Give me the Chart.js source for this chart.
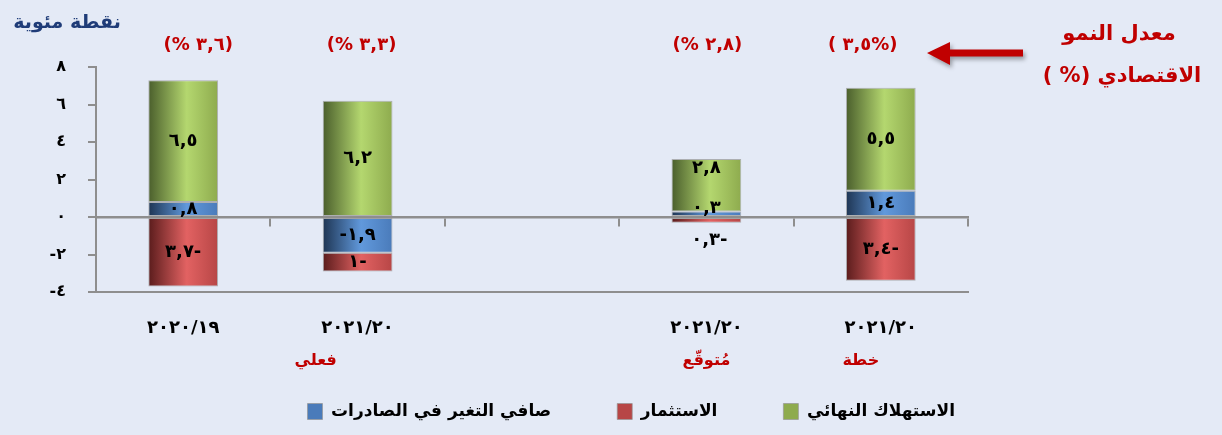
<!DOCTYPE html>
<html lang="ar" dir="ltr">
<head>
<meta charset="utf-8">
<script src="https://cdn.jsdelivr.net/npm/chart.js@4/dist/chart.umd.min.js"></script>
<style>
  html, body { margin: 0; padding: 0; background: #E4EAF6; }
  #wrap { width: 1222px; height: 435px; position: relative; direction: ltr; }
  canvas { direction: ltr; }
</style>
</head>
<body>
<div id="wrap"><canvas id="c"></canvas></div>
<script>
// Contributions to real GDP growth (percentage points) by demand component
const categories   = ['٢٠٢٠/١٩', '٢٠٢١/٢٠', '', '٢٠٢١/٢٠', '٢٠٢١/٢٠'];
const stageLabels  = ['', 'فعلي', '', 'مُتوقّع', 'خطة'];
const exportsNet   = [0.8, -1.9, null, 0.3, 1.4];
const investment   = [-3.7, -1.0, null, -0.3, -3.4];
const consumption  = [6.5, 6.2, null, 2.8, 5.5];
const growthRate   = [3.6, 3.3, null, 2.8, 3.5];
const yTickValues  = [-4, -2, 0, 2, 4, 6, 8];

const FONT = "'DejaVu Sans', sans-serif";
const RED_TEXT = '#C00000';
const AXIS_GREY = '#8E8E8E';

const arDigits = '٠١٢٣٤٥٦٧٨٩';
function toArabic(str) {
  return String(str).replace(/[0-9]/g, d => arDigits[+d]).replace('.', ',');
}

// draws a sequence of text pieces strictly left to right, centred on (cx, cy)
function drawRun(ctx, pieces, cx, cy) {
  const widths = pieces.map(p => ctx.measureText(p).width);
  const total = widths.reduce((a, b) => a + b, 0);
  let x = cx - total / 2;
  ctx.textAlign = 'left';
  pieces.forEach((p, i) => { ctx.fillText(p, x, cy); x += widths[i]; });
  ctx.textAlign = 'center';
}

function valuePieces(v, minusFirst) {
  const body = toArabic(Math.abs(v));
  if (v >= 0) return [body];
  return minusFirst ? ['-', body] : [body, '-'];
}

// horizontal "cylinder" shading across each bar
function barFill(dark, light, edge, solid) {
  return (c) => {
    if (c.type !== 'data') return solid;
    const chart = c.chart;
    const xs = chart.scales.x;
    if (!chart.chartArea || !xs) return solid;
    const cx = xs.getPixelForValue(c.dataIndex);
    const half = (xs.width / categories.length) * 0.4 / 2;
    const g = chart.ctx.createLinearGradient(cx - half, 0, cx + half, 0);
    g.addColorStop(0, dark);
    g.addColorStop(0.55, light);
    g.addColorStop(1, edge);
    return g;
  };
}

// per-point label tweaks: key = datasetIndex-dataIndex
const labelTweaks = {
  '0-1': { minusFirst: true },
  '0-3': { dy: -5 },
  '1-3': { dy: 20, dx: 3 },
  '2-3': { top: 9 }
};

const valueLabels = {
  id: 'valueLabels',
  afterDatasetsDraw(chart) {
    const ctx = chart.ctx;
    ctx.save();
    ctx.direction = 'ltr';
    ctx.font = 'bold 18px ' + FONT;
    ctx.fillStyle = '#000';
    ctx.textAlign = 'center';
    ctx.textBaseline = 'middle';
    chart.data.datasets.forEach((ds, di) => {
      const meta = chart.getDatasetMeta(di);
      meta.data.forEach((el, i) => {
        const v = ds.data[i];
        if (v === null || v === undefined) return;
        const t = labelTweaks[di + '-' + i] || {};
        let y = (el.y + el.base) / 2;
        if (t.top !== undefined) y = Math.min(el.y, el.base) + t.top;
        y += t.dy || 0;
        const x = el.x + (t.dx || 0);
        drawRun(ctx, valuePieces(v, t.minusFirst), x, y);
      });
    });
    ctx.restore();
  }
};

const growthOffsets = [15, 4, 0, 1, -18];
const stageOffsets  = [0, -42, 0, 0, -20];

const annotations = {
  id: 'annotations',
  afterDraw(chart) {
    const ctx = chart.ctx;
    const xs = chart.scales.x;
    ctx.save();
    ctx.direction = 'ltr';
    ctx.textAlign = 'center';
    ctx.textBaseline = 'middle';

    // unit caption
    ctx.font = 'bold 19px ' + FONT;
    ctx.fillStyle = '#1F3C78';
    ctx.fillText('نقطة مئوية', 67, 23);

    // growth rate above each bar
    ctx.font = 'bold 18px ' + FONT;
    ctx.fillStyle = RED_TEXT;
    growthRate.forEach((g, i) => {
      if (g === null) return;
      const num = toArabic(g);
      const pieces = i === growthRate.length - 1
        ? ['(', ' ', num, '%', ')']
        : ['(', '%', ' ', num, ')'];
      drawRun(ctx, pieces, xs.getPixelForValue(i) + growthOffsets[i], 45);
    });

    // stage of each year
    ctx.font = 'bold 16px ' + FONT;
    stageLabels.forEach((s, i) => {
      if (!s) return;
      ctx.fillText(s, xs.getPixelForValue(i) + stageOffsets[i], 361);
    });

    // side caption
    ctx.font = 'bold 21px ' + FONT;
    ctx.fillText('معدل النمو', 1119, 35);
    drawRun(ctx, ['(', ' ', '%', ')', ' ', 'الاقتصادي'], 1122, 77);

    // arrow pointing to the growth row
    ctx.shadowColor = 'rgba(0,0,0,0.35)';
    ctx.shadowBlur = 4;
    ctx.shadowOffsetX = 2;
    ctx.shadowOffsetY = 3;
    ctx.fillStyle = RED_TEXT;
    ctx.beginPath();
    ctx.moveTo(927, 53);
    ctx.lineTo(950, 42);
    ctx.lineTo(950, 49.5);
    ctx.lineTo(1023, 49.5);
    ctx.lineTo(1023, 56.5);
    ctx.lineTo(950, 56.5);
    ctx.lineTo(950, 65);
    ctx.closePath();
    ctx.fill();
    ctx.restore();
  }
};

const barBorder = 'rgba(150,150,150,0.7)';

new Chart(document.getElementById('c'), {
  type: 'bar',
  data: {
    labels: categories,
    datasets: [
      {
        label: 'صافي التغير في الصادرات',
        data: exportsNet,
        backgroundColor: barFill('#1E3553', '#6199DC', '#4A7BBA', '#4F81BD'),
        borderColor: barBorder, borderWidth: 1, borderSkipped: false
      },
      {
        label: 'الاستثمار',
        data: investment,
        backgroundColor: barFill('#5A1C1C', '#E26262', '#B74646', '#C0504D'),
        borderColor: barBorder, borderWidth: 1, borderSkipped: false
      },
      {
        label: 'الاستهلاك النهائي',
        data: consumption,
        backgroundColor: barFill('#4A5E2C', '#B4D76F', '#8EAB4E', '#9BBB59'),
        borderColor: barBorder, borderWidth: 1, borderSkipped: false
      }
    ]
  },
  options: {
    responsive: true,
    maintainAspectRatio: false,
    animation: false,
    devicePixelRatio: 1,
    layout: { padding: { top: 67, right: 201, bottom: 5, left: 0 } },
    datasets: { bar: { barPercentage: 0.4, categoryPercentage: 1 } },
    scales: {
      x: {
        stacked: true,
        grid: { display: false },
        border: { display: true, color: AXIS_GREY, width: 2 },
        ticks: { color: '#000', font: { family: FONT, size: 18, weight: 'bold' }, padding: 18, maxRotation: 0 },
        afterFit: s => { s.height = 45; }
      },
      x2: {
        type: 'category',
        labels: categories,
        position: { y: 0 },
        offset: true,
        grid: { display: true, drawOnChartArea: false, drawTicks: true, tickLength: 8, color: AXIS_GREY, lineWidth: 2, offset: true },
        border: { display: true, color: AXIS_GREY, width: 2.5 },
        ticks: { display: false }
      },
      y: {
        stacked: true,
        min: -4,
        max: 8,
        afterBuildTicks: s => { s.ticks = yTickValues.map(v => ({ value: v })); },
        grid: { drawOnChartArea: false, drawTicks: true, tickLength: 8, color: AXIS_GREY, lineWidth: 2 },
        border: { display: true, color: AXIS_GREY, width: 2 },
        ticks: {
          color: '#000',
          padding: 22,
          font: { family: FONT, size: 16, weight: 'bold' },
          callback: v => (v < 0 ? '-' : '') + toArabic(Math.abs(v))
        },
        afterFit: s => { s.width = 96; }
      },
      yR: {
        type: 'linear',
        position: 'right',
        grid: { display: false },
        border: { display: false },
        ticks: { display: false },
        afterFit: s => { s.width = 53; }
      }
    },
    plugins: {
      legend: {
        position: 'bottom',
        align: 'end',
        labels: {
          color: '#000',
          boxWidth: 15,
          boxHeight: 16,
          padding: 66,
          font: { family: FONT, size: 17, weight: 'bold' }
        }
      },
      tooltip: { enabled: false }
    }
  },
  plugins: [valueLabels, annotations]
});
</script>
</body>
</html>
